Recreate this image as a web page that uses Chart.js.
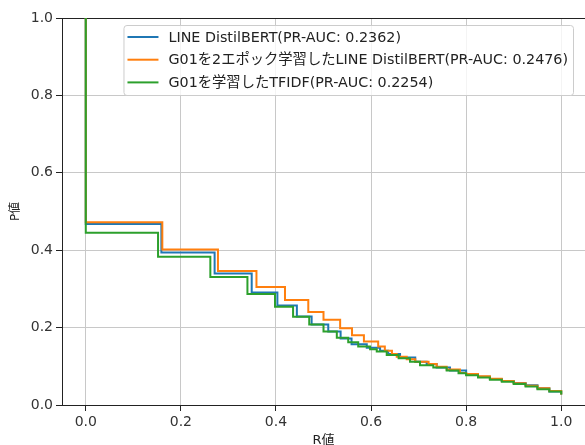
<!DOCTYPE html>
<html>
<head>
<meta charset="utf-8">
<script src="https://cdn.jsdelivr.net/npm/chart.js@4/dist/chart.umd.min.js"></script>
<style>
  html, body { margin: 0; padding: 0; background: #fff; }
  #wrap { width: 585px; height: 445px; position: relative; }
</style>
</head>
<body>
<div id="wrap"><canvas id="prChart"></canvas></div>
<script>
// series names
const seriesNames = [
    'LINE DistilBERT(PR-AUC: 0.2362)',
    'G01を2エポック学習したLINE DistilBERT(PR-AUC: 0.2476)',
    'G01を学習したTFIDF(PR-AUC: 0.2254)'
];

// LINE DistilBERT
const recallBase = [0, 0, 0.159, 0.271, 0.349, 0.403, 0.444, 0.475, 0.510, 0.536, 0.559, 0.591, 0.619, 0.636, 0.661, 0.693, 0.717, 0.738, 0.766, 0.8, 0.825, 0.85, 0.875, 0.9, 0.925, 0.95, 0.975, 1.0];
const precisionBase = [1.0, 0.468, 0.394, 0.340, 0.291, 0.257, 0.229, 0.208, 0.190, 0.172, 0.157, 0.148, 0.140, 0.132, 0.123, 0.112, 0.106, 0.097, 0.089, 0.079, 0.073, 0.067, 0.062, 0.057, 0.051, 0.043, 0.035, 0.027];

// G01 x2 epoch LINE DistilBERT
const recallG01Bert = [0, 0, 0.161, 0.278, 0.359, 0.419, 0.468, 0.500, 0.535, 0.560, 0.585, 0.615, 0.629, 0.644, 0.654, 0.675, 0.693, 0.721, 0.738, 0.759, 0.787, 0.8, 0.825, 0.85, 0.875, 0.9, 0.925, 0.95, 0.975, 1.0];
const precisionG01Bert = [1.0, 0.472, 0.402, 0.346, 0.305, 0.271, 0.240, 0.220, 0.198, 0.180, 0.164, 0.151, 0.140, 0.132, 0.125, 0.118, 0.112, 0.106, 0.099, 0.092, 0.083, 0.080, 0.074, 0.068, 0.062, 0.056, 0.050, 0.043, 0.036, 0.027];

// G01 TFIDF
const recallTfidf = [0, 0, 0.152, 0.262, 0.340, 0.398, 0.436, 0.470, 0.500, 0.528, 0.552, 0.573, 0.598, 0.612, 0.633, 0.658, 0.682, 0.703, 0.731, 0.759, 0.784, 0.8, 0.825, 0.85, 0.875, 0.9, 0.925, 0.95, 0.975, 1.0];
const precisionTfidf = [1.0, 0.445, 0.383, 0.331, 0.287, 0.254, 0.228, 0.208, 0.190, 0.174, 0.162, 0.151, 0.144, 0.138, 0.129, 0.121, 0.112, 0.103, 0.097, 0.089, 0.082, 0.077, 0.071, 0.065, 0.060, 0.054, 0.048, 0.041, 0.035, 0.027];

const xTicks = [0, 0.2, 0.4, 0.6, 0.8, 1.0];
const yTicks = [0, 0.2, 0.4, 0.6, 0.8, 1.0];

const colors = ['#1f77b4', '#ff7f0e', '#2ca02c'];
const FONT = '"DejaVu Sans", "Noto Sans CJK JP", sans-serif';

function toPoints(rs, ps) {
    return rs.map((r, i) => ({ x: r, y: ps[i] }));
}

// legend drawn inside the plot, upper right like matplotlib
const innerLegend = {
    id: 'innerLegend',
    afterDatasetsDraw(chart) {
        const { ctx, chartArea } = chart;
        const sets = chart.data.datasets;
        ctx.save();
        ctx.font = '14.3px ' + FONT;
        let maxW = 0;
        sets.forEach(ds => { maxW = Math.max(maxW, ctx.measureText(ds.label).width); });
        const rowH = 22.7;
        const w = 45 + maxW + 5;
        const h = 70;
        const right = chartArea.right - 12;
        const left = right - w;
        const top = chartArea.top + 7;

        ctx.fillStyle = 'rgba(255,255,255,0.8)';
        ctx.strokeStyle = '#cccccc';
        ctx.lineWidth = 1;
        ctx.beginPath();
        ctx.roundRect(left + 0.5, top + 0.5, w, h, 3);
        ctx.fill();
        ctx.stroke();

        sets.forEach((ds, i) => {
            const cy = top + 12 + i * rowH;
            ctx.strokeStyle = ds.borderColor;
            ctx.lineWidth = 2;
            ctx.beginPath();
            ctx.moveTo(left + 4, cy);
            ctx.lineTo(left + 35, cy);
            ctx.stroke();
            ctx.fillStyle = '#222';
            ctx.textBaseline = 'middle';
            ctx.textAlign = 'left';
            ctx.fillText(ds.label, left + 45, cy + 1);
        });
        ctx.restore();
    }
};

const ctx = document.getElementById('prChart').getContext('2d');
new Chart(ctx, {
    type: 'line',
    data: {
        datasets: [
            { label: seriesNames[0], data: toPoints(recallBase, precisionBase), borderColor: colors[0], order: 3 },
            { label: seriesNames[1], data: toPoints(recallG01Bert, precisionG01Bert), borderColor: colors[1], order: 2 },
            { label: seriesNames[2], data: toPoints(recallTfidf, precisionTfidf), borderColor: colors[2], order: 1 }
        ]
    },
    options: {
        responsive: true,
        maintainAspectRatio: false,
        animation: false,
        layout: { padding: { top: 18, right: 0, left: 0, bottom: 0 } },
        elements: {
            line: { borderWidth: 2, stepped: 'before', fill: false, tension: 0 },
            point: { radius: 0, hoverRadius: 0 }
        },
        plugins: {
            legend: { display: false },
            tooltip: { enabled: false }
        },
        scales: {
            x: {
                type: 'linear',
                min: -0.05,
                max: 1.05,
                afterBuildTicks: scale => { scale.ticks = xTicks.map(v => ({ value: v })); },
                afterFit: scale => { scale.height = 40; },
                ticks: {
                    color: '#333',
                    font: { family: FONT, size: 14 },
                    padding: 3,
                    maxRotation: 0,
                    callback: v => v.toFixed(1)
                },
                grid: { color: '#c8c8c8', tickColor: '#222', tickLength: 6 },
                border: { color: '#222', width: 1 },
                title: {
                    display: true,
                    text: 'R値',
                    color: '#222',
                    font: { family: FONT, size: 13 },
                    padding: { top: 0, bottom: -3 }
                }
            },
            y: {
                type: 'linear',
                min: 0,
                max: 1.0,
                afterBuildTicks: scale => { scale.ticks = yTicks.map(v => ({ value: v })); },
                afterFit: scale => { scale.width = 62; },
                ticks: {
                    color: '#333',
                    font: { family: FONT, size: 14 },
                    padding: 3,
                    callback: v => v.toFixed(1)
                },
                grid: {
                    color: c => (c.tick && c.tick.value === 1 ? '#222' : '#c8c8c8'),
                    tickColor: '#222',
                    tickLength: 6
                },
                border: { color: '#222', width: 1 },
                title: {
                    display: true,
                    text: 'P値',
                    color: '#222',
                    font: { family: FONT, size: 12 },
                    padding: { top: 9, bottom: 0 }
                }
            }
        }
    },
    plugins: [innerLegend]
});
</script>
</body>
</html>
